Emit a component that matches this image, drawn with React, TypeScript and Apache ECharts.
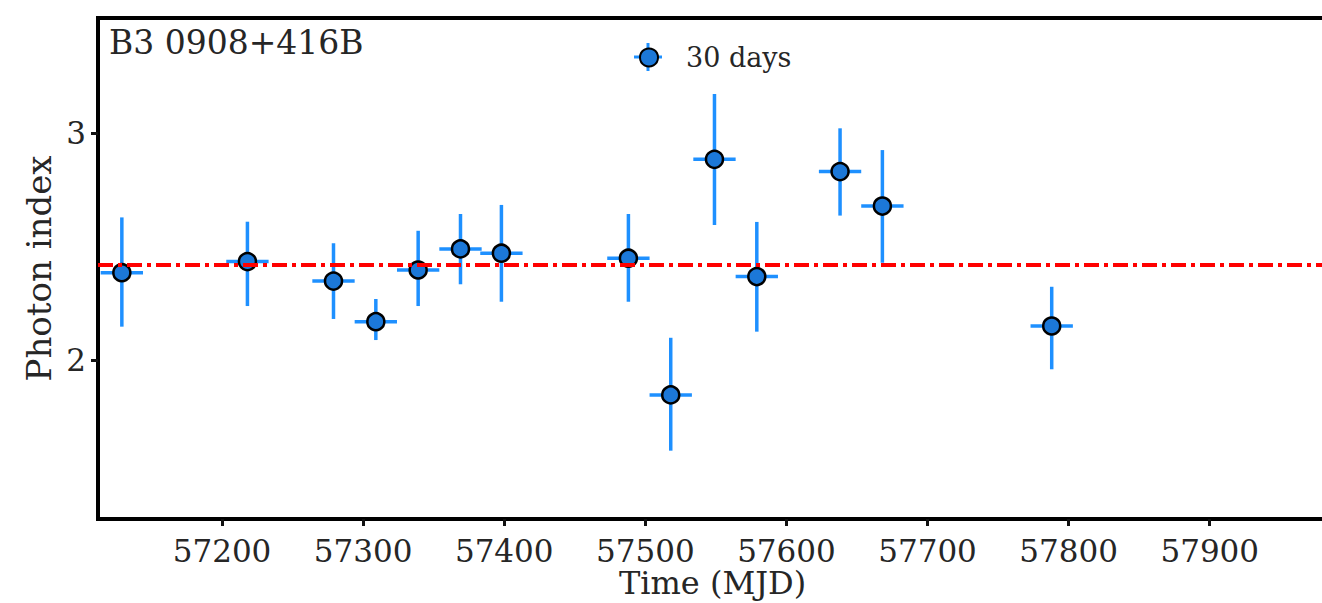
import React, { useEffect, useRef } from "react";
import * as echarts from "echarts";

const mjd = [57129, 57218, 57279, 57309, 57339, 57369, 57398, 57488, 57518, 57549, 57579, 57638, 57668, 57788];
const photonIndex = [2.385, 2.434, 2.348, 2.169, 2.397, 2.49, 2.471, 2.449, 1.846, 2.885, 2.368, 2.831, 2.679, 2.15];
const indexHigh = [2.629, 2.61, 2.515, 2.269, 2.57, 2.644, 2.684, 2.644, 2.098, 3.173, 2.609, 3.022, 2.926, 2.323];
const indexLow = [2.147, 2.238, 2.181, 2.088, 2.238, 2.334, 2.257, 2.257, 1.6, 2.596, 2.125, 2.637, 2.429, 1.959];
const binHalfWidth = 15;
const meanIndex = 2.415;
const xTicks = [57200, 57300, 57400, 57500, 57600, 57700, 57800, 57900];
const yTicks = [2, 3];
const sourceName = "B3 0908+416B";
const seriesName = "30 days";

const FONT = "'DejaVu Serif', serif";
const BLUE = "#1E90FF";
const X_MIN = 57112.1;
const X_MAX = 57983.1;
const frameLine = { show: true, onZero: false, lineStyle: { color: "#000", width: 4, cap: "square" } };

export default function App() {
  const ref = useRef<HTMLDivElement>(null);
  useEffect(() => {
    document.body.style.margin = "0";
    document.body.style.overflow = "hidden";
    const chart = echarts.init(ref.current!, null, { renderer: "svg" });
    const errData = mjd.map((x, i) => [x, photonIndex[i], x - binHalfWidth, x + binHalfWidth, indexLow[i], indexHigh[i]]);
    chart.setOption({
      animation: false,
      grid: {
        left: 98,
        right: -5,
        top: 18,
        bottom: 84,
        show: false,
        outerBoundsMode: "none",
        containLabel: false,
      },
      xAxis: [
        {
          type: "value",
          position: "bottom",
          min: X_MIN,
          max: X_MAX,
          name: "Time (MJD)",
          nameLocation: "middle",
          nameGap: 48,
          nameMoveOverlap: false,
          nameTextStyle: { fontFamily: FONT, fontSize: 32, color: "#262626", lineHeight: 32 },
          axisLine: frameLine,
          splitLine: { show: false },
          axisTick: { show: true, length: 7, lineStyle: { color: "#111", width: 3 }, customValues: xTicks },
          axisLabel: {
            customValues: xTicks,
            formatter: (v: number) => String(Math.round(v)),
            fontFamily: FONT,
            fontSize: 31,
            color: "#262626",
            margin: 16,
          },
        },
        {
          type: "value",
          position: "top",
          min: X_MIN,
          max: X_MAX,
          axisLine: frameLine,
          splitLine: { show: false },
          axisTick: { show: false },
          axisLabel: { show: false },
        },
      ],
      yAxis: {
        type: "value",
        min: 1.2986,
        max: 3.5086,
        name: "Photon index",
        nameLocation: "middle",
        nameGap: 42,
        nameRotate: 90,
        nameMoveOverlap: false,
        nameTextStyle: { fontFamily: FONT, fontSize: 34, color: "#262626" },
        axisLine: frameLine,
        splitLine: { show: false },
        axisTick: { show: true, length: 7, lineStyle: { color: "#111", width: 3 }, customValues: yTicks },
        axisLabel: {
          customValues: yTicks,
          formatter: (v: number) => String(Math.round(v)),
          fontFamily: FONT,
          fontSize: 31,
          color: "#262626",
          margin: 12,
        },
      },
      legend: {
        data: [{ name: seriesName, icon: "circle" }],
        left: 639,
        top: 44,
        padding: 0,
        itemWidth: 18,
        itemHeight: 18,
        z: 5,
        textStyle: { fontFamily: FONT, fontSize: 27, color: "#262626", padding: [0, 0, 0, 23] },
      },
      graphic: [
        {
          type: "text",
          left: 109,
          top: 26,
          style: { text: sourceName, font: `33px ${FONT}`, fill: "#262626" },
        },
        {
          type: "line",
          z: 1,
          shape: { x1: 634, y1: 57, x2: 662, y2: 57 },
          style: { stroke: BLUE, lineWidth: 3 },
        },
        {
          type: "line",
          z: 1,
          shape: { x1: 648, y1: 43, x2: 648, y2: 71 },
          style: { stroke: BLUE, lineWidth: 3 },
        },
      ],
      series: [
        {
          type: "custom",
          name: "errors",
          xAxisIndex: 0,
          data: errData,
          z: 2,
          renderItem: (params: any, api: any) => {
            const y = api.value(1);
            const x = api.value(0);
            const l = api.coord([api.value(2), y]);
            const r = api.coord([api.value(3), y]);
            const lo = api.coord([x, api.value(4)]);
            const hi = api.coord([x, api.value(5)]);
            return {
              type: "group",
              children: [
                { type: "line", shape: { x1: l[0], y1: l[1], x2: r[0], y2: r[1] }, style: { stroke: BLUE, lineWidth: 3.5 } },
                { type: "line", shape: { x1: lo[0], y1: lo[1], x2: hi[0], y2: hi[1] }, style: { stroke: BLUE, lineWidth: 3.5 } },
              ],
            };
          },
        },
        {
          type: "scatter",
          name: seriesName,
          xAxisIndex: 0,
          z: 3,
          symbol: "circle",
          symbolSize: 17,
          data: mjd.map((x, i) => [x, photonIndex[i]]),
          itemStyle: { color: "#1c78d8", borderColor: "#000", borderWidth: 2.5, opacity: 1 },
          markLine: {
            silent: true,
            symbol: ["none", "none"],
            label: { show: false },
            lineStyle: { color: "#ff0000", width: 4, type: [15, 5, 4, 5] },
            data: [{ yAxis: meanIndex }],
          },
        },
      ],
    });
    return () => chart.dispose();
  }, []);
  return <div ref={ref} style={{ width: 1322, height: 603 }} />;
}
